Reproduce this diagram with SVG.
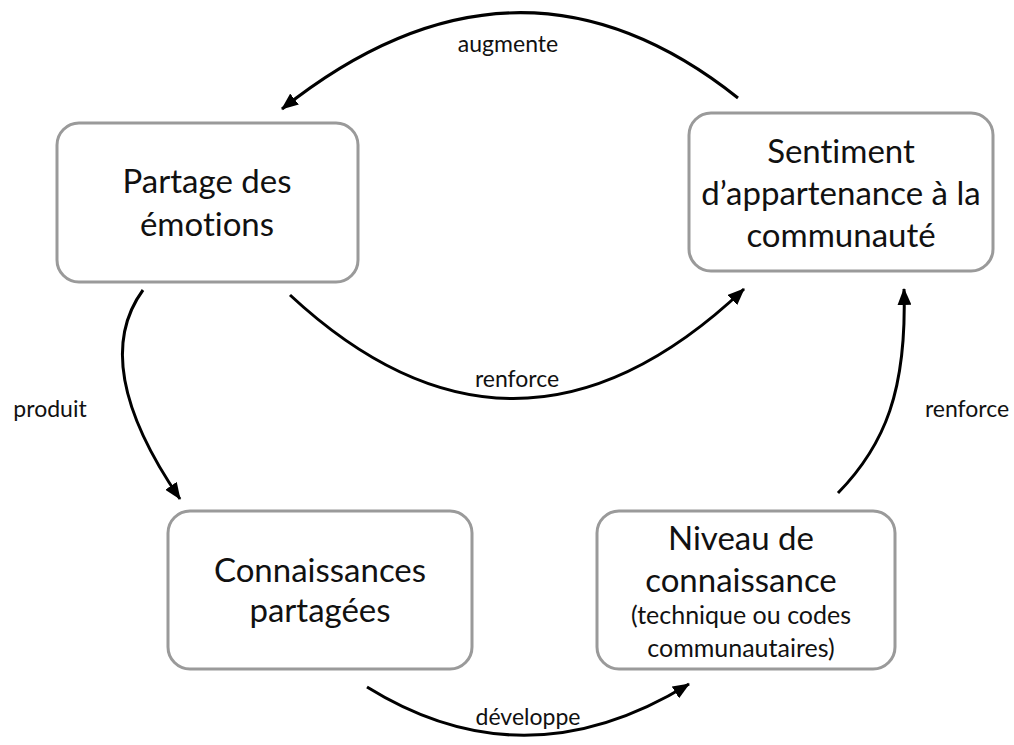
<svg xmlns="http://www.w3.org/2000/svg" width="1014" height="745" viewBox="0 0 1014 745">
<style>
text{font-variant-ligatures:none}
.box{fill:#fff;stroke:#9a9a9a;stroke-width:3}
.t{font-family:Lato,"Open Sans",sans-serif;font-size:33px;fill:#111;text-anchor:middle}
.s{font-family:Lato,"Open Sans",sans-serif;font-size:25px;fill:#111;text-anchor:middle}
.lbl{font-family:Lato,"Open Sans",sans-serif;font-size:23px;fill:#111;text-anchor:middle}
.c{fill:none;stroke:#000;stroke-width:3}
</style>
<defs>
<marker id="ah" markerUnits="userSpaceOnUse" markerWidth="18" markerHeight="14" refX="16" refY="7" orient="auto">
<path d="M0,0 L17,7 L0,14 z" fill="#000"/>
</marker>
</defs>
<rect width="1014" height="745" fill="#fff"/>
<g id="connectors">
<path class="c" d="M738,98 Q517,-78 282,109" marker-end="url(#ah)"/>
<path class="c" d="M290,295 Q516,505 744,289" marker-end="url(#ah)"/>
<path class="c" d="M143,290 Q88,365 180,499" marker-end="url(#ah)"/>
<path class="c" d="M367,687 Q525,785 689,684" marker-end="url(#ah)"/>
<path class="c" d="M838,493 C885,445 907,390 904,289" marker-end="url(#ah)"/>
<text class="lbl" x="508" y="52">augmente</text>
<text class="lbl" x="517" y="387">renforce</text>
<text class="lbl" x="50" y="417">produit</text>
<text class="lbl" x="528" y="725">développe</text>
<text class="lbl" x="967" y="417">renforce</text>
</g>
<g id="n-partage">
<rect class="box" x="57" y="123" width="301" height="159" rx="22"/>
<text class="t" x="207" y="193">Partage des</text>
<text class="t" x="207" y="236">émotions</text>
</g>
<g id="n-sentiment">
<rect class="box" x="689" y="113" width="304" height="158" rx="22"/>
<text class="t" x="841" y="163">Sentiment</text>
<text class="t" x="841" y="205">d’appartenance à la</text>
<text class="t" x="841" y="247">communauté</text>
</g>
<g id="n-connaissances">
<rect class="box" x="168" y="511" width="304" height="158" rx="22"/>
<text class="t" x="320" y="582">Connaissances</text>
<text class="t" x="320" y="622">partagées</text>
</g>
<g id="n-niveau">
<rect class="box" x="597" y="511" width="298" height="158" rx="22"/>
<text class="t" x="741" y="550">Niveau de</text>
<text class="t" x="741" y="592">connaissance</text>
<text class="s" x="741" y="624">(technique ou codes</text>
<text class="s" x="741" y="657">communautaires)</text>
</g>
</svg>
